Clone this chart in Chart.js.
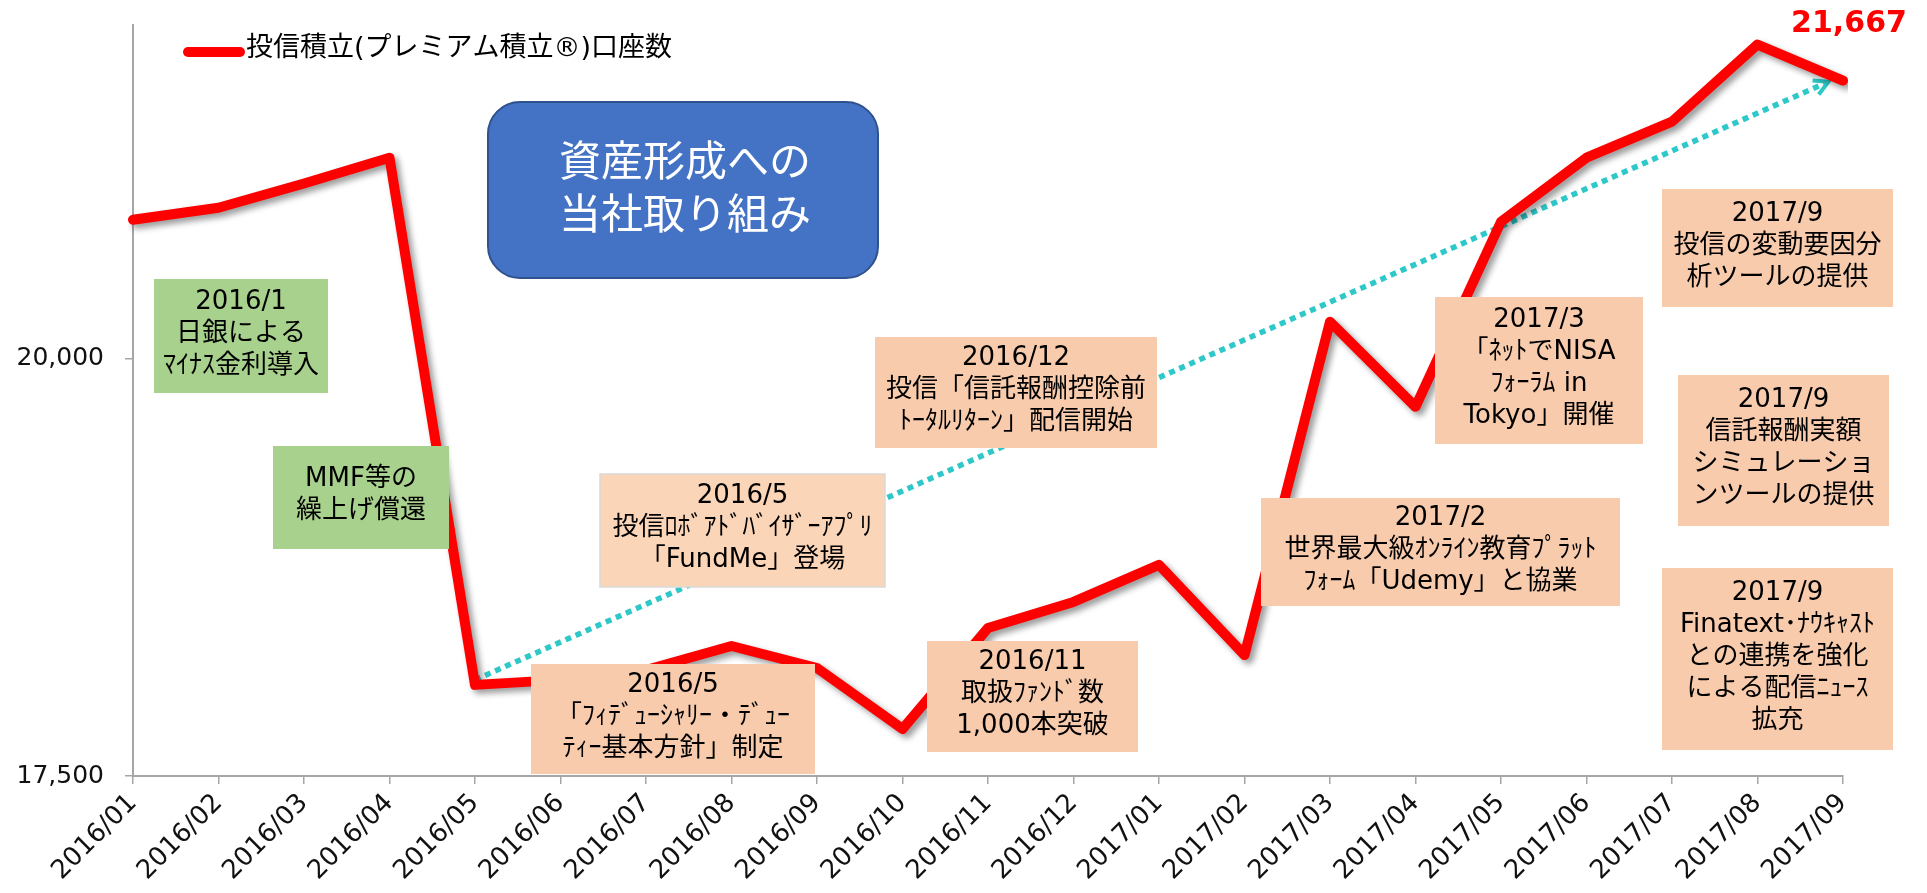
<!DOCTYPE html>
<html lang="ja">
<head>
<meta charset="utf-8">
<title>投信積立口座数</title>
<script src="https://cdn.jsdelivr.net/npm/chart.js@4.4.0/dist/chart.umd.min.js"></script>
<style>
  html, body { margin: 0; padding: 0; background: #fff; }
  #wrap { position: relative; width: 1927px; height: 893px; }
</style>
</head>
<body>
<div id="wrap"><canvas id="accountsChart"></canvas></div>
<script>
const months = ['2016/01', '2016/02', '2016/03', '2016/04', '2016/05', '2016/06', '2016/07',
  '2016/08', '2016/09', '2016/10', '2016/11', '2016/12', '2017/01', '2017/02', '2017/03',
  '2017/04', '2017/05', '2017/06', '2017/07', '2017/08', '2017/09']
const accounts = [20833, 20905, 21050, 21205, 18046, 18076, 18135, 18279, 18147, 17782, 18387,
  18543, 18765, 18225, 20222, 19712, 20821, 21205, 21421, 21883, 21667]
const seriesLabel = '投信積立(プレミアム積立®)口座数'
const yTicks = [17500, 20000]

// dotted trend arrow, [category index, value]
const trendFrom = [4, 18076]
const trendTo = [19.83, 21660]

const font = "'DejaVu Sans', 'Noto Sans CJK JP', sans-serif"
const jpFont = "'Noto Sans CJK JP', sans-serif"
const peach = '#f8cbad'
const green = '#a9d18e'

// text boxes drawn over the chart
const notes = [
  { lines: ['2016/1', '日銀による', 'ﾏｲﾅｽ金利導入'], x: 154, y: 279, w: 174, h: 114, fill: green },
  { lines: ['MMF等の', '繰上げ償還'], x: 273, y: 446, w: 176, h: 103, fill: green },
  { lines: ['2016/5', '投信ﾛﾎﾞｱﾄﾞﾊﾞｲｻﾞｰｱﾌﾟﾘ', '「FundMe」登場'], x: 600, y: 474, w: 285, h: 113, fill: '#fbd5b8', stroke: '#d9d9d9' },
  { lines: ['2016/12', '投信「信託報酬控除前', 'ﾄｰﾀﾙﾘﾀｰﾝ」配信開始'], x: 875, y: 337, w: 282, h: 111, fill: peach },
  { lines: ['2016/5', '「ﾌｨﾃﾞｭｰｼｬﾘｰ・ﾃﾞｭｰ', 'ﾃｨｰ基本方針」制定'], x: 531, y: 664, w: 284, h: 110, fill: peach },
  { lines: ['2016/11', '取扱ﾌｧﾝﾄﾞ数', '1,000本突破'], x: 927, y: 641, w: 211, h: 111, fill: peach },
  { lines: ['2017/2', '世界最大級ｵﾝﾗｲﾝ教育ﾌﾟﾗｯﾄ', 'ﾌｫｰﾑ「Udemy」と協業'], x: 1261, y: 498, w: 359, h: 108, fill: peach },
  { lines: ['2017/3', '「ﾈｯﾄでNISA', 'ﾌｫｰﾗﾑ in', 'Tokyo」開催'], x: 1435, y: 297, w: 208, h: 147, fill: peach },
  { lines: ['2017/9', '投信の変動要因分', '析ツールの提供'], x: 1662, y: 189, w: 231, h: 118, fill: peach },
  { lines: ['2017/9', '信託報酬実額', 'シミュレーショ', 'ンツールの提供'], x: 1678, y: 375, w: 211, h: 151, fill: peach },
  { lines: ['2017/9', 'Finatext･ﾅｳｷｬｽﾄ', 'との連携を強化', 'による配信ﾆｭｰｽ', '拡充'], x: 1662, y: 568, w: 231, h: 182, fill: peach }
]

const roundBox = (ctx, x, y, w, h, r) => {
  ctx.beginPath()
  ctx.moveTo(x + r, y)
  ctx.arcTo(x + w, y, x + w, y + h, r)
  ctx.arcTo(x + w, y + h, x, y + h, r)
  ctx.arcTo(x, y + h, x, y, r)
  ctx.arcTo(x, y, x + w, y, r)
  ctx.closePath()
}

const decorations = {
  id: 'decorations',
  beforeDatasetsDraw(chart) {
    const { ctx, scales } = chart
    const x0 = scales.x.getPixelForValue(trendFrom[0])
    const y0 = scales.y.getPixelForValue(trendFrom[1])
    const x1 = scales.x.getPixelForValue(trendTo[0])
    const y1 = scales.y.getPixelForValue(trendTo[1])
    const ang = Math.atan2(y1 - y0, x1 - x0)
    ctx.save()
    ctx.strokeStyle = '#2ec8c8'
    ctx.lineWidth = 5.5
    ctx.setLineDash([6, 5])
    ctx.beginPath()
    ctx.moveTo(x0, y0)
    ctx.lineTo(x1 - 4 * Math.cos(ang), y1 - 4 * Math.sin(ang))
    ctx.stroke()
    // open arrow head
    ctx.setLineDash([])
    ctx.lineWidth = 4
    ctx.beginPath()
    ctx.moveTo(x1 - 16 * Math.cos(ang - 0.5), y1 - 16 * Math.sin(ang - 0.5))
    ctx.lineTo(x1, y1)
    ctx.lineTo(x1 - 16 * Math.cos(ang + 0.5), y1 - 16 * Math.sin(ang + 0.5))
    ctx.stroke()
    ctx.restore()
  },
  beforeDatasetDraw(chart, args) {
    if (args.index !== 0) return
    const ctx = chart.ctx
    ctx.save()
    ctx.shadowColor = 'rgba(0, 0, 0, 0.4)'
    ctx.shadowBlur = 6
    ctx.shadowOffsetX = 4
    ctx.shadowOffsetY = 4
  },
  afterDatasetDraw(chart, args) {
    if (args.index !== 0) return
    chart.ctx.restore()
  },
  afterDatasetsDraw(chart) {
    const { ctx, scales } = chart

    // blue title box
    ctx.save()
    roundBox(ctx, 488, 102, 390, 176, 32)
    ctx.fillStyle = '#4472c4'
    ctx.fill()
    ctx.lineWidth = 2
    ctx.strokeStyle = '#2f528f'
    ctx.stroke()
    ctx.fillStyle = '#fff'
    ctx.font = `42px ${jpFont}`
    ctx.textAlign = 'center'
    ctx.textBaseline = 'middle'
    ctx.fillText('資産形成への', 685, 160)
    ctx.fillText('当社取り組み', 685, 213)

    // event boxes
    ctx.font = `26px ${font}`
    notes.forEach(n => {
      ctx.fillStyle = n.fill
      ctx.fillRect(n.x, n.y, n.w, n.h)
      if (n.stroke) {
        ctx.lineWidth = 1.5
        ctx.strokeStyle = n.stroke
        ctx.strokeRect(n.x, n.y, n.w, n.h)
      }
      ctx.fillStyle = '#000'
      const top = n.y + n.h / 2 - (n.lines.length - 1) * 16 - 2
      n.lines.forEach((line, i) => ctx.fillText(line, n.x + n.w / 2, top + i * 32))
    })

    // legend
    const ds = chart.data.datasets[0]
    ctx.strokeStyle = ds.borderColor
    ctx.lineWidth = 10
    ctx.lineCap = 'round'
    ctx.beginPath()
    ctx.moveTo(188, 52)
    ctx.lineTo(240, 52)
    ctx.stroke()
    ctx.fillStyle = '#000'
    ctx.textAlign = 'left'
    ctx.font = `27px ${font}`
    ctx.fillText(ds.label, 246, 49)

    // value label on the last point
    const last = accounts.length - 1
    const px = scales.x.getPixelForValue(last)
    const py = scales.y.getPixelForValue(accounts[last])
    ctx.fillStyle = '#ff0000'
    ctx.textAlign = 'center'
    ctx.font = `bold 30px ${font}`
    ctx.fillText(accounts[last].toLocaleString('en-US'), px + 6, py - 56)
    ctx.restore()
  }
}

new Chart(document.getElementById('accountsChart'), {
  type: 'line',
  data: {
    labels: months,
    datasets: [{
      label: seriesLabel,
      data: accounts,
      borderColor: '#ff0000',
      borderWidth: 10,
      borderJoinStyle: 'round',
      borderCapStyle: 'round',
      pointRadius: 0,
      tension: 0,
      fill: false
    }]
  },
  options: {
    responsive: true,
    maintainAspectRatio: false,
    animation: false,
    layout: { padding: { top: 25, right: 84, left: 0, bottom: 0 } },
    plugins: {
      legend: { display: false },
      tooltip: { enabled: false }
    },
    scales: {
      x: {
        offset: false,
        grid: { drawOnChartArea: false, tickLength: 8, color: '#a6a6a6', lineWidth: 1.5 },
        border: { color: '#a6a6a6', width: 2 },
        ticks: {
          autoSkip: false,
          maxRotation: 45,
          minRotation: 45,
          padding: 4,
          color: '#111',
          font: { family: font, size: 26 }
        },
        afterFit: scale => {
          scale.height = 117
          scale.paddingLeft = 0
          scale.paddingRight = 0
        }
      },
      y: {
        min: 17500,
        max: 22000,
        grid: { drawOnChartArea: false, tickLength: 8, color: '#a6a6a6', lineWidth: 1.5 },
        border: { color: '#a6a6a6', width: 2 },
        ticks: {
          padding: 21,
          color: '#111',
          font: { family: font, size: 25 },
          callback: value => value.toLocaleString('en-US')
        },
        afterBuildTicks: scale => {
          scale.ticks = yTicks.map(v => ({ value: v }))
        },
        afterFit: scale => {
          scale.width = 133
          scale.paddingTop = 0
          scale.paddingBottom = 0
        }
      }
    }
  },
  plugins: [decorations]
})
</script>
</body>
</html>
